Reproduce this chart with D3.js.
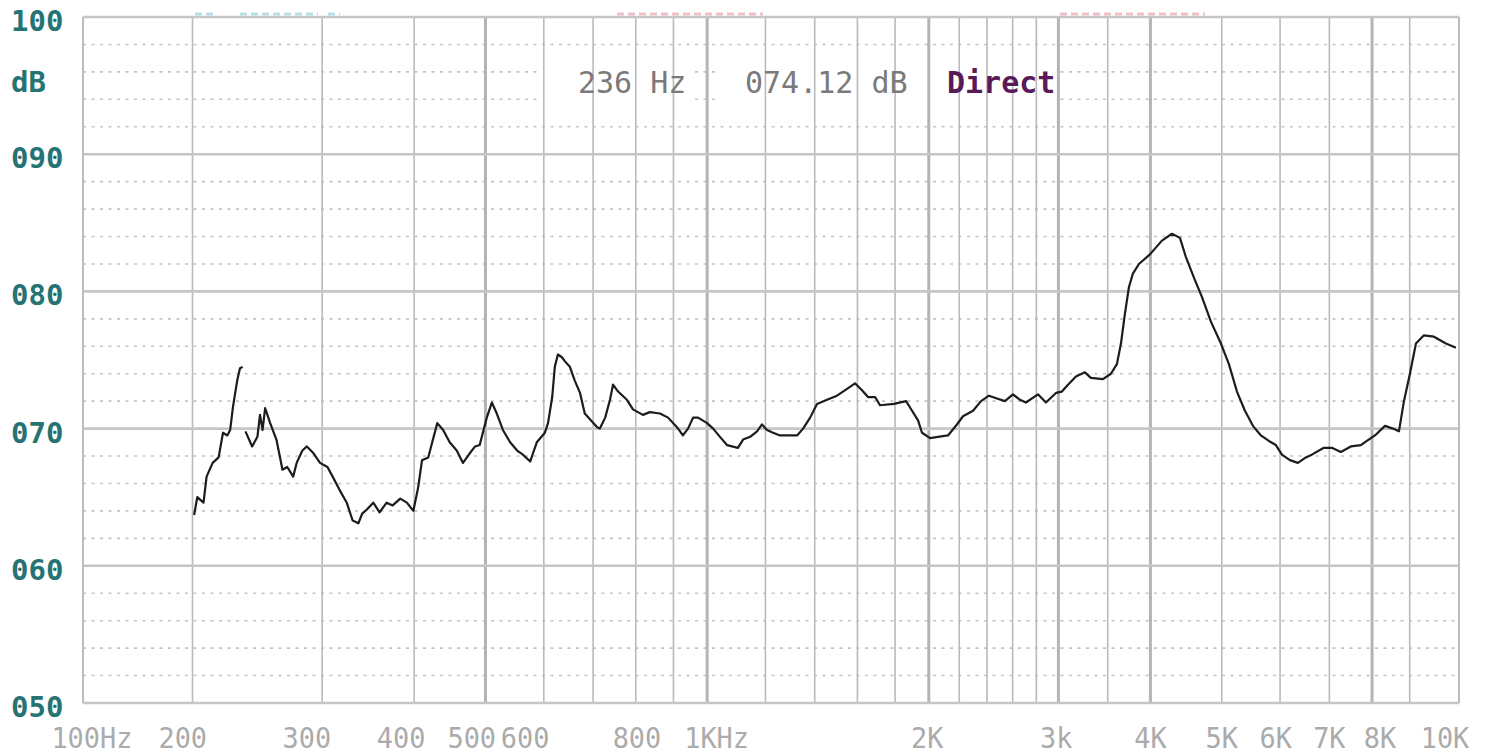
<!DOCTYPE html>
<html>
<head>
<meta charset="utf-8">
<script src="https://cdn.jsdelivr.net/npm/d3@7"></script>
<style>
  html, body { margin: 0; padding: 0; background: #ffffff; }
  svg { display: block; }
</style>
</head>
<body>
<svg id="chart" width="1495" height="756"></svg>
<script>
// ---------- data ----------
const freqHz = [201,203,207,209,213,217,220,223,225,227,230,232,234,235,236,241,245,247,249,251,255,260,265,269,274,277,282,286,292,298,305,310,317,324,330,336,340,345,352,359,367,374,383,391,399,405,410,418,430,438,447,457,466,476,484,491,502,510,518,528,540,552,562,575,580,587,602,608,616,621,627,635,641,651,661,672,682,709,715,727,738,745,757,778,793,818,836,863,885,910,927,942,957,972,1000,1019,1041,1064,1081,1101,1119,1144,1169,1187,1206,1229,1256,1296,1325,1350,1380,1410,1455,1501,1549,1588,1623,1654,1691,1717,1794,1863,1898,1934,1958,2008,2058,2124,2184,2226,2297,2355,2414,2475,2538,2602,2660,2710,2814,2885,2977,3033,3091,3169,3259,3321,3448,3535,3602,3648,3694,3740,3787,3859,3994,4147,4279,4387,4470,4583,4699,4833,4987,5113,5243,5376,5512,5651,5794,5922,6035,6187,6344,6504,6627,6881,7055,7256,7487,7725,7871,8073,8330,8540,8702,8839,9006,9177,9409,9708,10080,10400];
const levelDb = [63.7,65.0,64.6,66.5,67.5,67.9,69.7,69.5,69.9,71.6,73.5,74.4,74.5,null,69.8,68.7,69.4,71.0,69.9,71.5,70.4,69.2,67.0,67.2,66.5,67.5,68.4,68.7,68.2,67.5,67.2,66.5,65.5,64.6,63.3,63.1,63.8,64.1,64.6,63.9,64.6,64.4,64.9,64.6,64.0,65.7,67.7,67.9,70.4,69.9,69.0,68.4,67.5,68.2,68.7,68.8,70.8,71.9,71.1,69.9,69.0,68.4,68.1,67.6,68.2,69.0,69.7,70.4,72.3,74.5,75.4,75.2,74.9,74.5,73.5,72.6,71.1,70.1,70.0,70.8,72.1,73.2,72.7,72.1,71.4,71.0,71.2,71.1,70.8,70.1,69.5,70.0,70.8,70.8,70.4,70.0,69.4,68.8,68.7,68.6,69.2,69.4,69.8,70.3,69.9,69.7,69.5,69.5,69.5,70.0,70.8,71.8,72.1,72.4,72.9,73.3,72.8,72.3,72.3,71.7,71.8,72.0,71.3,70.6,69.7,69.3,69.4,69.5,70.3,70.9,71.3,72.0,72.4,72.2,72.0,72.5,72.1,71.9,72.5,71.9,72.6,72.7,73.2,73.8,74.1,73.7,73.6,74.0,74.7,76.2,78.4,80.3,81.3,82.0,82.7,83.7,84.2,83.9,82.5,81.0,79.6,77.8,76.2,74.7,72.7,71.3,70.2,69.5,69.1,68.8,68.1,67.7,67.5,67.9,68.1,68.6,68.6,68.3,68.7,68.8,69.1,69.5,70.2,70.0,69.8,72.0,74.0,76.2,76.8,76.7,76.2,75.9];

const gridMinorHz = [200,300,400,600,700,800,900,1200,1400,1600,1800,2200,2400,2600,2800,3500,5000,6000,7000,9000];
const gridMajorHz = [500,1000,2000,3000,4000,8000];
const dbMajor = [50,60,70,80,90,100];
const dbMinor = [52,54,56,58,62,64,66,68,72,74,76,78,82,84,86,88,92,94,96,98];

const yTickLabels = ["050","060","070","080","090","100"];
const xTickLabels = ["100Hz","200","300","400","500","600","800","1KHz","2K","3k","4K","5K","6K","7K","8K","10K"];
const xTickLabelAtHz = [146,194,286,384,479,566,803,1030,1990,2980,4000,5000,5920,7000,8200,10050];

const cursorText = ["236 Hz","074.12 dB","Direct"];

// ---------- scales ----------
const svg = d3.select("#chart");
const x = d3.scaleLog().domain([142, 10500]).range([83, 1459]);
const y = d3.scaleLinear().domain([50, 100]).range([703, 17]);
const [x0, x1] = x.range();
const [yb, yt] = y.range();

svg.append("rect").attr("width",1495).attr("height",756).attr("fill","#fff");

// faint clipped fragments above the frame
const frag = svg.append("g").attr("opacity",0.55);
[[195,215,"#7cc8d4"],[240,318,"#7cc8d4"],[328,340,"#7cc8d4"],[617,763,"#e58d98"],[1060,1205,"#e58d98"]].forEach(s=>{
  frag.append("line").attr("x1",s[0]).attr("x2",s[1]).attr("y1",14).attr("y2",14)
    .attr("stroke",s[2]).attr("stroke-width",3).attr("stroke-dasharray","7,4");
});

// dotted horizontal lines
svg.append("g").selectAll("line").data(dbMinor).join("line")
  .attr("x1",x0).attr("x2",x1)
  .attr("y1",d=>y(d)).attr("y2",d=>y(d))
  .attr("stroke","#c4c4c4").attr("stroke-width",1.6)
  .attr("stroke-dasharray","3,5.5");

// header masks
[[537,692],[718,936],[940,1060]].forEach(b=>{
  svg.append("rect").attr("x",b[0]).attr("y",58).attr("width",b[1]-b[0]).attr("height",46).attr("fill","#fff");
});

// vertical grid
svg.append("g").selectAll("line").data(gridMinorHz).join("line")
  .attr("x1",d=>x(d)).attr("x2",d=>x(d)).attr("y1",yt).attr("y2",yb)
  .attr("stroke","#bababa").attr("stroke-width",1.6);
svg.append("g").selectAll("line").data(gridMajorHz).join("line")
  .attr("x1",d=>x(d)).attr("x2",d=>x(d)).attr("y1",yt).attr("y2",yb)
  .attr("stroke","#b4b4b4").attr("stroke-width",3);

// solid horizontal lines
svg.append("g").selectAll("line").data(dbMajor).join("line")
  .attr("x1",x0).attr("x2",x1)
  .attr("y1",d=>y(d)).attr("y2",d=>y(d))
  .attr("stroke","#c6c6c6").attr("stroke-width",2.6);

// frame sides
[x0,x1].forEach(px=>{
  svg.append("line").attr("x1",px).attr("x2",px).attr("y1",yt).attr("y2",yb)
    .attr("stroke","#bdbdbd").attr("stroke-width",2);
});

// curve
const pts = freqHz.map((f,i)=>({f, v: levelDb[i]}));
const line = d3.line().defined(d=>d.v!==null).x(d=>x(d.f)).y(d=>y(d.v)).curve(d3.curveLinear);
svg.append("path").datum(pts).attr("d",line)
  .attr("fill","none").attr("stroke","#1c1c1c").attr("stroke-width",2.2)
  .attr("stroke-linejoin","round");

// y labels
const mono = "'DejaVu Sans Mono', 'Liberation Mono', monospace";
svg.append("g").selectAll("text").data(yTickLabels).join("text")
  .attr("x",11).attr("y",d=>y(+d)+14)
  .attr("font-family",mono).attr("font-weight","bold").attr("font-size",29)
  .attr("fill","#257473").text(d=>d);
svg.append("text").attr("x",11).attr("y",y(95)+6)
  .attr("font-family",mono).attr("font-weight","bold").attr("font-size",29)
  .attr("fill","#257473").text("dB");

// x labels (condensed)
svg.append("g").selectAll("text").data(xTickLabels).join("text")
  .attr("x",(d,i)=>x(xTickLabelAtHz[i])).attr("y",748)
  .attr("text-anchor","middle")
  .attr("font-family",mono).attr("font-size",29)
  .attr("textLength",d=>d.length*16.2).attr("lengthAdjust","spacingAndGlyphs")
  .attr("fill","#ababab").text(d=>d);

// cursor readout
svg.append("text").attr("x",578).attr("y",93)
  .attr("font-family",mono).attr("font-size",30).attr("fill","#7a7a7a").text(cursorText[0]);
svg.append("text").attr("x",745).attr("y",93)
  .attr("font-family",mono).attr("font-size",30).attr("fill","#7a7a7a").text(cursorText[1]);
svg.append("text").attr("x",947).attr("y",93)
  .attr("font-family",mono).attr("font-weight","bold").attr("font-size",30).attr("fill","#5a1a58").text(cursorText[2]);
</script>
</body>
</html>
